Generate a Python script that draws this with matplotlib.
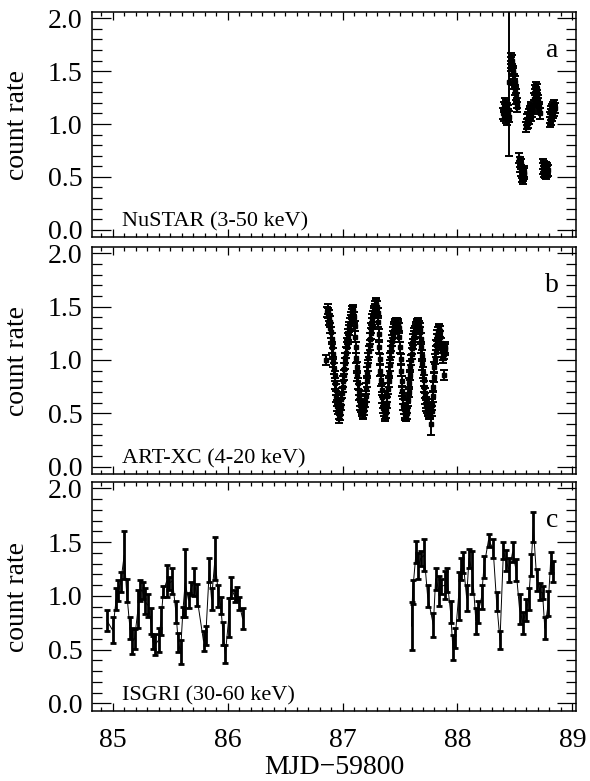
import numpy as np
import matplotlib
matplotlib.use("Agg")
import matplotlib.pyplot as plt
from matplotlib.ticker import MultipleLocator

plt.rcParams['font.family'] = ['Liberation Serif', 'DejaVu Serif']

# NuSTAR (3-50 keV): orbit chunks, 0.004 d bins
nustar_dt = 0.004
nustar_start = [88.398, 88.452, 88.462, 88.538, 88.600, 88.664, 88.742, 88.802]
nustar_chunks = [
    [1.10, 1.16, 1.08, 1.20, 1.14, 1.06, 1.18, 1.12, 1.04, 1.15, 1.09, 1.13, 1.07],
    [1.40],
    [1.58, 1.62, 1.55, 1.60, 1.52, 1.48, 1.50, 1.42, 1.38, 1.40, 1.32, 1.28, 1.24, 1.20, 1.16],
    [0.68, 0.64, 0.60, 0.62, 0.56, 0.54, 0.50, 0.52, 0.48, 0.51, 0.55, 0.53],
    [0.97, 1.00, 1.04, 1.01, 1.06, 1.09, 1.05, 1.12, 1.10, 1.14, 1.08, 1.16, 1.12],
    [1.18, 1.24, 1.28, 1.32, 1.35, 1.30, 1.33, 1.27, 1.24, 1.20, 1.22, 1.16, 1.14, 1.10],
    [0.62, 0.58, 0.55, 0.60, 0.54, 0.57, 0.53, 0.56, 0.59, 0.55, 0.58, 0.56],
    [1.02, 1.06, 1.04, 1.09, 1.12, 1.08, 1.14, 1.11, 1.16, 1.13, 1.18, 1.15],
]
nustar_err = [0.05, 0.70, 0.05, 0.05, 0.05, 0.05, 0.05, 0.05]

nustar_t, nustar_r, nustar_e = [], [], []
for t0, chunk, err in zip(nustar_start, nustar_chunks, nustar_err):
    nustar_t += list(t0 + nustar_dt * np.arange(len(chunk)))
    nustar_r += chunk
    nustar_e += [err] * len(chunk)

# ART-XC (4-20 keV): 0.005 d bins from 86.860
artxc_t0, artxc_dt = 86.860, 0.005
artxc_r = [1.00, 1.45, 1.48, 1.44, 1.42, 1.38, 1.36, 1.30, 1.26, 1.20,
           1.12, 1.06, 0.98, 0.92, 0.85, 0.78, 0.72, 0.66, 0.62, 0.57,
           0.54, 0.50, 0.46, 0.49, 0.53, 0.58, 0.63, 0.69, 0.75, 0.80,
           0.86, 0.92, 0.97, 1.02, 1.07, 1.12, 1.16, 1.20, 1.24, 1.28,
           1.31, 1.34, 1.37, 1.40, 1.43, 1.46, 1.47, 1.45, 1.40, 1.32,
           1.22, 1.12, 1.02, 0.93, 0.85, 0.78, 0.72, 0.67, 0.62, 0.58,
           0.56, 0.54, 0.52, 0.51, 0.50, 0.53, 0.57, 0.61, 0.66, 0.73,
           0.80, 0.88, 0.95, 1.02, 1.08, 1.14, 1.20, 1.25, 1.30, 1.34,
           1.38, 1.41, 1.44, 1.46, 1.48, 1.50, 1.52, 1.53, 1.50, 1.44,
           1.36, 1.24, 1.12, 1.01, 0.90, 0.81, 0.72, 0.65, 0.60, 0.55,
           0.52, 0.50, 0.48, 0.51, 0.55, 0.60, 0.66, 0.73, 0.80, 0.88,
           0.95, 1.02, 1.08, 1.13, 1.18, 1.22, 1.26, 1.29, 1.31, 1.32,
           1.33, 1.34, 1.34, 1.33, 1.32, 1.33, 1.30, 1.22, 1.12, 1.01,
           0.90, 0.80, 0.71, 0.64, 0.58, 0.54, 0.51, 0.49, 0.48, 0.48,
           0.50, 0.55, 0.62, 0.70, 0.78, 0.86, 0.94, 1.00, 1.06, 1.11,
           1.15, 1.19, 1.22, 1.25, 1.27, 1.29, 1.31, 1.32, 1.33, 1.34,
           1.33, 1.32, 1.30, 1.26, 1.20, 1.12, 1.04, 0.96, 0.88, 0.81,
           0.75, 0.69, 0.64, 0.60, 0.57, 0.55, 0.53, 0.52, 0.51, 0.50,
           0.51, 0.50, 0.40, 0.52, 0.58, 0.66, 0.75, 0.84, 0.93, 1.01,
           1.08, 1.14, 1.19, 1.23, 1.26, 1.28, 1.29, 1.27, 1.22, 1.16,
           1.12, 1.08, 1.05, 1.02, 0.86, 1.06, 1.12, 1.10]
artxc_e = [0.05] * len(artxc_r)
artxc_e[182] = 0.10
artxc_t = artxc_t0 + artxc_dt * np.arange(len(artxc_r))

# INTEGRAL/ISGRI (30-60 keV), two visits
isgri_t1 = [84.95, 85.00, 85.03, 85.05, 85.07, 85.10, 85.12, 85.15, 85.17, 85.19,
            85.22, 85.24, 85.26, 85.28, 85.31, 85.33, 85.35, 85.37, 85.40, 85.42,
            85.44, 85.47, 85.49, 85.52, 85.55, 85.57, 85.59, 85.61, 85.63, 85.66,
            85.68, 85.71, 85.73, 85.79, 85.81, 85.84, 85.86, 85.89, 85.92, 85.94,
            85.96, 85.98, 86.01, 86.03, 86.06, 86.08, 86.10, 86.13]
isgri_r1 = [0.77, 0.68, 0.97, 1.05, 1.13, 1.38, 1.05, 0.70, 0.58, 0.60,
            0.88, 1.05, 1.05, 0.95, 0.91, 0.77, 0.57, 0.55, 0.59, 0.77,
            1.04, 1.14, 1.12, 1.14, 0.85, 0.57, 0.48, 0.85, 1.12, 0.96,
            1.07, 1.13, 1.01, 0.58, 0.63, 1.24, 0.97, 1.35, 1.00, 0.91,
            0.65, 0.46, 0.80, 1.08, 1.00, 1.02, 0.93, 0.79]
isgri_e1 = [0.10, 0.12, 0.10, 0.10, 0.09, 0.22, 0.11, 0.10, 0.12, 0.09,
            0.18, 0.10, 0.08, 0.12, 0.11, 0.12, 0.06, 0.10, 0.11, 0.13,
            0.05, 0.15, 0.06, 0.12, 0.10, 0.09, 0.11, 0.05, 0.32, 0.07,
            0.06, 0.13, 0.10, 0.09, 0.09, 0.11, 0.10, 0.20, 0.10, 0.08,
            0.11, 0.08, 0.18, 0.10, 0.06, 0.06, 0.06, 0.10]

isgri_t2 = [87.60, 87.61, 87.64, 87.66, 87.68, 87.71, 87.74, 87.79, 87.81, 87.84,
            87.86, 87.89, 87.91, 87.94, 87.96, 87.98, 88.01, 88.03, 88.05, 88.08,
            88.10, 88.13, 88.16, 88.18, 88.21, 88.23, 88.27, 88.31, 88.34, 88.37,
            88.40, 88.42, 88.45, 88.48, 88.51, 88.54, 88.57, 88.60, 88.62, 88.64,
            88.66, 88.69, 88.72, 88.74, 88.76, 88.79, 88.81, 88.83]
isgri_r2 = [0.72, 1.04, 1.41, 1.28, 1.35, 1.38, 1.00, 0.73, 1.16, 1.05,
            1.09, 1.10, 1.15, 0.85, 0.52, 0.61, 1.00, 1.25, 1.31, 0.98,
            1.35, 1.22, 0.77, 0.85, 0.99, 1.27, 1.52, 1.44, 0.95, 0.59,
            1.42, 1.33, 1.24, 1.41, 1.24, 0.88, 0.75, 0.87, 0.97, 1.29,
            1.64, 1.15, 1.04, 1.03, 0.70, 0.93, 1.31, 1.23]
isgri_e2 = [0.22, 0.11, 0.10, 0.12, 0.07, 0.15, 0.10, 0.11, 0.10, 0.14,
            0.07, 0.13, 0.11, 0.10, 0.12, 0.09, 0.22, 0.10, 0.10, 0.12,
            0.09, 0.20, 0.12, 0.10, 0.11, 0.10, 0.06, 0.09, 0.09, 0.08,
            0.08, 0.10, 0.11, 0.09, 0.10, 0.14, 0.10, 0.10, 0.10, 0.10,
            0.14, 0.10, 0.08, 0.06, 0.10, 0.12, 0.10, 0.10]

labels = ['NuSTAR (3-50 keV)', 'ART-XC (4-20 keV)', 'ISGRI (30-60 keV)']
letters = ['a', 'b', 'c']

fig = plt.figure(figsize=(5.9, 7.81), dpi=100)
left, width = 0.156, 0.820
boxes = [(0.6965, 0.2881), (0.3931, 0.2906), (0.0896, 0.2932)]
axes = [fig.add_axes([left, b, width, h]) for b, h in boxes]

dense = dict(fmt='s', ms=3.0, color='black', ecolor='black', elinewidth=1.4,
             capsize=2.8, capthick=1.4, lw=0.6)
axes[0].errorbar(nustar_t, nustar_r, yerr=nustar_e, **dense)
axes[1].errorbar(artxc_t, artxc_r, yerr=artxc_e, **dense)

sparse = dict(fmt='-', color='black', ecolor='black', elinewidth=2.0,
              capsize=2.0, capthick=2.0, lw=0.7)
axes[2].errorbar(isgri_t1, isgri_r1, yerr=isgri_e1, **sparse)
axes[2].errorbar(isgri_t2, isgri_r2, yerr=isgri_e2, **sparse)

for i, ax in enumerate(axes):
    ax.set_xlim(84.82, 89.03)
    ax.set_ylim(-0.07, 2.06)
    ax.xaxis.set_major_locator(MultipleLocator(1))
    ax.xaxis.set_minor_locator(MultipleLocator(0.1))
    ax.yaxis.set_major_locator(MultipleLocator(0.5))
    ax.yaxis.set_minor_locator(MultipleLocator(0.1))
    ax.yaxis.set_major_formatter('{x:.1f}')
    ax.tick_params(axis='both', which='both', direction='in', top=True, right=True,
                   width=0.9, color='black')
    ax.tick_params(axis='y', which='major', length=13.7, labelsize=20, pad=7)
    ax.tick_params(axis='y', which='minor', length=7.2)
    ax.tick_params(axis='x', which='major', length=5.8, labelsize=20, pad=12)
    ax.tick_params(axis='x', which='minor', length=2.9)
    for s in ax.spines.values():
        s.set_linewidth(1.1)
    ax.set_ylabel('count rate', fontsize=20)
    ax.yaxis.set_label_coords(-0.128, 0.5)
    ax.text(85.08, 0.03, labels[i], fontsize=16, ha='left', va='baseline')
    ax.text(88.82, 1.70, letters[i], fontsize=20, ha='center', va='center')
    if i < 2:
        ax.tick_params(axis='x', labelbottom=False)

axes[2].set_xlabel('MJD\u221259800', fontsize=20, labelpad=2)

fig.savefig('out.png', dpi=100)
